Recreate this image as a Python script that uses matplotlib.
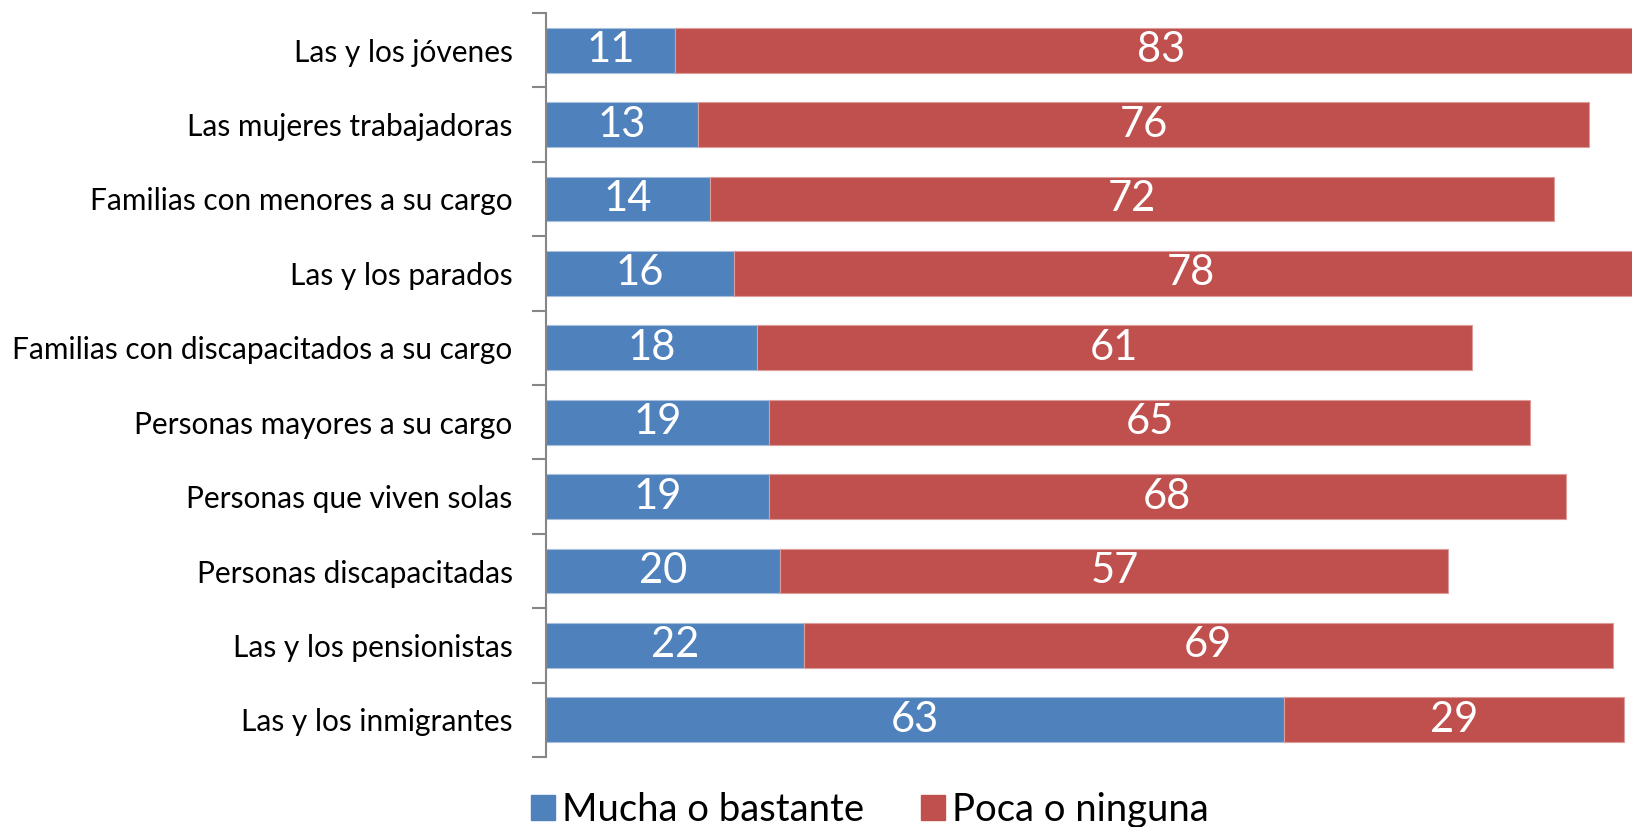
import numpy as np
import matplotlib
matplotlib.use("Agg")
import matplotlib.pyplot as plt
from matplotlib.patches import Patch

plt.rcParams['font.family'] = ['Lato', 'DejaVu Sans']

# Grupos (de abajo hacia arriba) y porcentajes
grupos = ['Las y los inmigrantes', 'Las y los pensionistas', 'Personas discapacitadas',
          'Personas que viven solas', 'Personas mayores a su cargo',
          'Familias con discapacitados a su cargo', 'Las y los parados',
          'Familias con menores a su cargo', 'Las mujeres trabajadoras',
          'Las y los jóvenes']
mucha = [63, 22, 20, 19, 19, 18, 16, 14, 13, 11]
poca = [29, 69, 57, 68, 65, 61, 78, 72, 76, 83]

azul = '#4F81BD'
rojo = '#C0504D'

fig = plt.figure(figsize=(16.32, 8.27), dpi=100)
ax = fig.add_axes([546 / 1632, 70 / 827, 1172 / 1632, 744 / 827])

y = np.arange(len(grupos))
ax.barh(y, mucha, height=0.6, color=azul, edgecolor='#a9c0dd', linewidth=0.8)
ax.barh(y, poca, left=mucha, height=0.6, color=rojo, edgecolor='#dc9c9a', linewidth=0.8)

for i in range(len(grupos)):
    ax.text(mucha[i] / 2, y[i], str(mucha[i]), color='white', fontsize=30,
            ha='center', va='center')
    ax.text(mucha[i] + poca[i] / 2, y[i], str(poca[i]), color='white', fontsize=30,
            ha='center', va='center')

ax.set_xlim(0, 100)
ax.set_ylim(-0.5, len(grupos) - 0.5)
ax.set_xticks([])
ax.set_yticks(y)
ax.set_yticklabels(grupos, fontsize=21.5)
ax.set_yticks(np.arange(-0.5, len(grupos), 1), minor=True)
ax.tick_params(axis='y', which='major', length=0, pad=24)
ax.tick_params(axis='y', which='minor', length=10, width=1.5, color='#868686')
for s in ['top', 'right', 'bottom']:
    ax.spines[s].set_visible(False)
ax.spines['left'].set_color('#868686')
ax.spines['left'].set_linewidth(1.5)

handles = [Patch(color=azul, label='Mucha o bastante'),
           Patch(color=rojo, label='Poca o ninguna')]
fig.legend(handles=handles, loc='center', bbox_to_anchor=(870 / 1632, 1 - 810 / 827),
           ncol=2, frameon=False, fontsize=27.5, handlelength=0.63, handleheight=0.6,
           handletextpad=0.18, columnspacing=1.5, borderpad=0)

fig.savefig('out.png', dpi=100)
